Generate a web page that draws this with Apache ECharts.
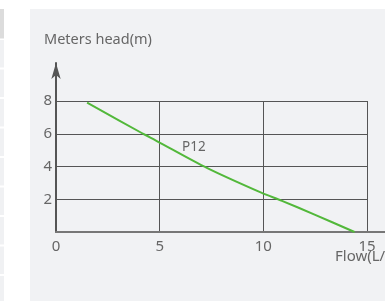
<!DOCTYPE html>
<html>
<head>
<meta charset="utf-8">
<style>
html,body{margin:0;padding:0;background:#ffffff;}
#chart{width:385px;height:301px;}
</style>
<script src="https://cdn.jsdelivr.net/npm/echarts@6/dist/echarts.min.js"></script>
</head>
<body>
<div id="chart"></div>
<script>
// Data
const flow = [1.5, 4.2, 4.8, 7.3, 9.9, 10.9, 12.5, 14.4];
const head = [7.9, 6.0, 5.6, 3.9, 2.4, 1.9, 1.05, 0.0];
const seriesName = 'P12';
const xTitle = 'Flow(L/min)';
const yTitle = 'Meters head(m)';
const xMax = 15, xStep = 5;
const yMax = 8, yStep = 2;

const FONT = '"Noto Sans", sans-serif';
const TXT = '#666666';
const GRIDC = '#555555';

const chart = echarts.init(document.getElementById('chart'), null, {renderer: 'canvas'});

const sideBlocks = [];
const blockTops = [40, 69.5, 99, 128.5, 158, 187.5, 217, 246.5, 276];
sideBlocks.push({type: 'rect', shape: {x: 0, y: 9, width: 4, height: 29.5}, style: {fill: '#dcdcdc'}, silent: true});
blockTops.forEach(t => sideBlocks.push({type: 'rect', shape: {x: 0, y: t, width: 4, height: 27.5}, style: {fill: '#f0f1f3'}, silent: true}));

chart.setOption({
  backgroundColor: '#ffffff',
  animation: false,
  graphic: [
    {type: 'rect', z: -10, shape: {x: 30, y: 9, width: 360, height: 300}, style: {fill: '#f1f2f4'}, silent: true},
    ...sideBlocks,
    {type: 'text', x: 44, y: 40, style: {text: yTitle, fill: TXT, font: '14.5px ' + FONT, verticalAlign: 'middle', align: 'left'}},
    {type: 'text', x: 335, y: 257, style: {text: xTitle, fill: TXT, font: '15px ' + FONT, verticalAlign: 'middle', align: 'left'}},
    {type: 'text', x: 182, y: 147, style: {text: seriesName, fill: TXT, font: '13.5px ' + FONT, verticalAlign: 'middle', align: 'left'}}
  ],
  grid: [
    {left: 56, top: 101, width: 311, height: 131, containLabel: false},
    {left: 56, top: 63, right: -40, bottom: 69, containLabel: false}
  ],
  xAxis: [
    {
      gridIndex: 0, type: 'value', min: 0, max: xMax, interval: xStep,
      axisLine: {show: false}, axisTick: {show: false},
      axisLabel: {color: TXT, fontSize: 15, fontFamily: FONT, margin: 7},
      splitLine: {show: true, lineStyle: {color: GRIDC, width: 1}}
    },
    {
      gridIndex: 1, type: 'value', min: 0, max: 1,
      axisLine: {show: true, onZero: false, lineStyle: {color: '#777777', width: 2}},
      axisTick: {show: false}, axisLabel: {show: false}, splitLine: {show: false}
    }
  ],
  yAxis: [
    {
      gridIndex: 0, type: 'value', min: 0, max: yMax, interval: yStep,
      axisLine: {show: false}, axisTick: {show: false},
      axisLabel: {color: TXT, fontSize: 15, fontFamily: FONT, margin: 4,
        formatter: v => (v === 0 ? '' : String(v))},
      splitLine: {show: true, lineStyle: {color: GRIDC, width: 1}}
    },
    {
      gridIndex: 1, type: 'value', min: 0, max: 1,
      axisLine: {show: true, onZero: false, symbol: ['none', 'arrow'], symbolSize: [7, 16],
        lineStyle: {color: '#555555', width: 2}},
      axisTick: {show: false}, axisLabel: {show: false}, splitLine: {show: false}
    }
  ],
  series: [{
    name: seriesName,
    type: 'line',
    xAxisIndex: 0, yAxisIndex: 0,
    data: flow.map((f, i) => [f, head[i]]),
    smooth: 0.3,
    showSymbol: false,
    lineStyle: {color: '#52b83a', width: 2},
    z: 5
  }]
});
</script>
</body>
</html>
